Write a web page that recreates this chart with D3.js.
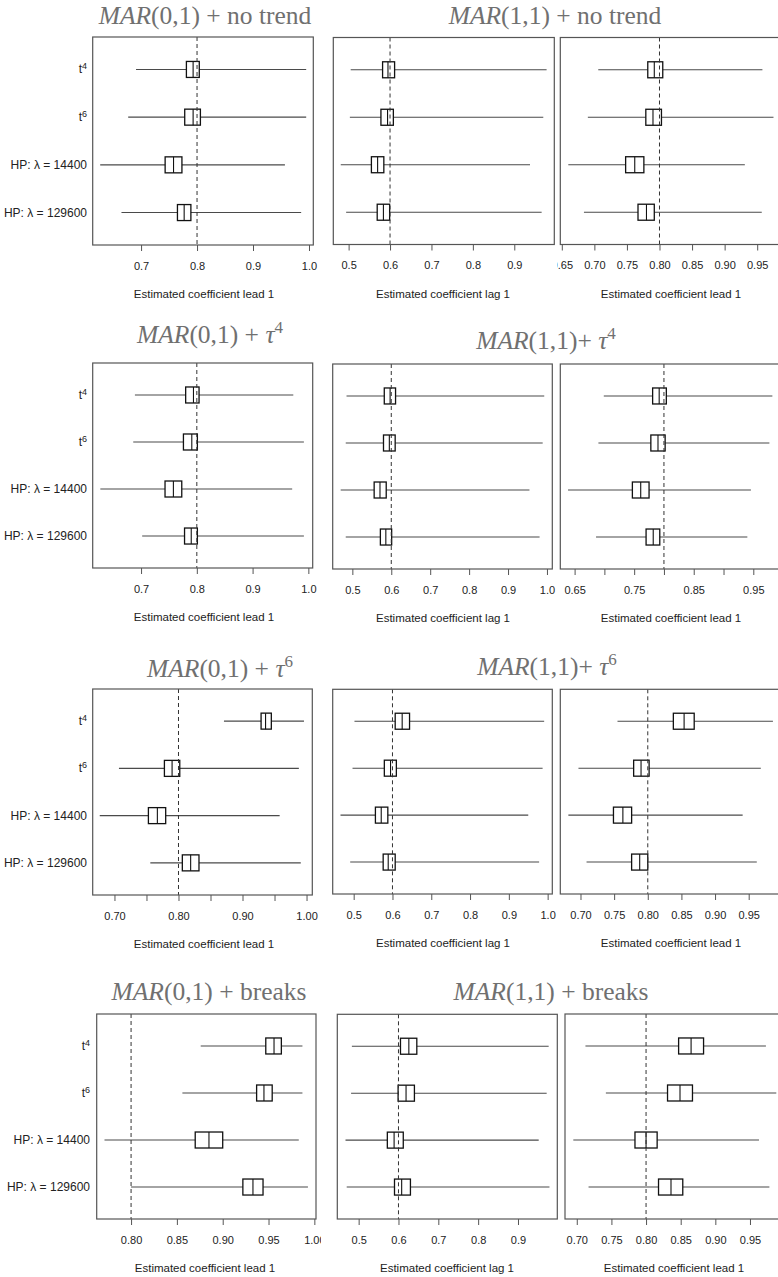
<!DOCTYPE html>
<html>
<head>
<meta charset="utf-8">
<script src="https://cdn.jsdelivr.net/npm/d3@7/dist/d3.min.js"></script>
<style>
body { margin: 0; background: #fff; }
text { font-family: "Liberation Sans", Arial, sans-serif; }
</style>
</head>
<body>
<div id="chart"></div>
<script>
var rowNames = ["t4", "t6", "HP: λ = 14400", "HP: λ = 129600"];

// every row: [2.5%, lower quartile, median, upper quartile, 97.5%]
var noTrendLead01 = [[0.691, 0.781, 0.793, 0.804, 0.995], [0.677, 0.778, 0.793, 0.806, 0.995], [0.627, 0.743, 0.758, 0.773, 0.957], [0.665, 0.765, 0.777, 0.789, 0.986]];
var noTrendLag11  = [[0.505, 0.582, 0.595, 0.611, 0.978], [0.503, 0.578, 0.594, 0.608, 0.970], [0.481, 0.555, 0.570, 0.585, 0.938], [0.494, 0.569, 0.584, 0.599, 0.966]];
var noTrendLead11 = [[0.706, 0.782, 0.792, 0.805, 0.958], [0.690, 0.779, 0.790, 0.803, 0.975], [0.660, 0.748, 0.762, 0.776, 0.931], [0.684, 0.767, 0.780, 0.792, 0.957]];

var tau4Lead01 = [[0.689, 0.780, 0.794, 0.804, 0.973], [0.686, 0.776, 0.791, 0.801, 0.992], [0.627, 0.743, 0.758, 0.773, 0.971], [0.702, 0.778, 0.790, 0.801, 0.992]];
var tau4Lag11  = [[0.485, 0.582, 0.597, 0.611, 0.993], [0.483, 0.580, 0.595, 0.610, 0.989], [0.470, 0.556, 0.571, 0.587, 0.955], [0.483, 0.572, 0.586, 0.601, 0.981]];
var tau4Lead11 = [[0.699, 0.781, 0.792, 0.804, 0.982], [0.690, 0.778, 0.790, 0.802, 0.977], [0.639, 0.747, 0.761, 0.775, 0.946], [0.686, 0.770, 0.782, 0.793, 0.940]];

var tau6Lead01 = [[0.871, 0.929, 0.936, 0.945, 0.996], [0.707, 0.778, 0.790, 0.802, 0.988], [0.677, 0.753, 0.767, 0.780, 0.958], [0.756, 0.806, 0.819, 0.832, 0.991]];
var tau6Lag11  = [[0.502, 0.607, 0.625, 0.644, 0.991], [0.497, 0.579, 0.595, 0.610, 0.987], [0.466, 0.556, 0.571, 0.588, 0.950], [0.491, 0.576, 0.589, 0.607, 0.978]];
var tau6Lead11 = [[0.755, 0.838, 0.854, 0.869, 0.986], [0.697, 0.779, 0.790, 0.802, 0.968], [0.682, 0.749, 0.763, 0.776, 0.941], [0.709, 0.776, 0.788, 0.800, 0.962]];

var breaksLead01 = [[0.876, 0.947, 0.956, 0.964, 0.987], [0.856, 0.937, 0.945, 0.954, 0.987], [0.771, 0.870, 0.885, 0.900, 0.983], [0.800, 0.922, 0.933, 0.944, 0.993]];
var breaksLag11  = [[0.483, 0.605, 0.626, 0.646, 0.977], [0.481, 0.599, 0.619, 0.640, 0.972], [0.467, 0.572, 0.589, 0.612, 0.952], [0.470, 0.590, 0.608, 0.630, 0.979]];
var breaksLead11 = [[0.7125, 0.847, 0.865, 0.883, 0.973], [0.742, 0.831, 0.849, 0.867, 0.988], [0.695, 0.784, 0.800, 0.816, 0.963], [0.717, 0.818, 0.836, 0.853, 0.978]];

var ticksTenth4 = [0.7, 0.8, 0.9, 1.0];
var ticksLag5 = [0.5, 0.6, 0.7, 0.8, 0.9];
var ticksLag6 = [0.5, 0.6, 0.7, 0.8, 0.9, 1.0];
var ticksLead65 = [0.65, 0.70, 0.75, 0.80, 0.85, 0.90, 0.95];
var ticksLead70 = [0.70, 0.75, 0.80, 0.85, 0.90, 0.95];
var ticksLead70to100 = [0.70, 0.75, 0.80, 0.85, 0.90, 0.95, 1.00];
var ticksLead80to100 = [0.80, 0.85, 0.90, 0.95, 1.00];

var titles = ["(0,1) + no trend", "(1,1) + no trend", "(0,1) + τ4", "(1,1)+ τ4", "(0,1) + τ6", "(1,1)+ τ6", "(0,1) + breaks", "(1,1) + breaks"];

var W = 778, H = 1277;
var svg = d3.select("#chart").append("svg")
  .attr("width", W)
  .attr("height", H);

// each row of the collage is three separate pictures, clipped at their edges
var rowBands = [[0, 305], [305, 630], [630, 955], [955, 1277]];
var cuts = [[0, 322, 557, W], [0, 322, 557, W], [0, 322, 557, W], [0, 321, 560, W]];
var defs = svg.append("defs");
rowBands.forEach(function(b, r) {
  for (var c = 0; c < 3; c++) {
    defs.append("clipPath").attr("id", "clip" + r + c)
      .append("rect")
      .attr("x", cuts[r][c]).attr("y", b[0])
      .attr("width", cuts[r][c + 1] - cuts[r][c]).attr("height", b[1] - b[0]);
  }
});

var panels = [
  {data: noTrendLead01, clip: "clip00", x0: 92.7, x1: 313.3, top: 37, bottom: 245, domain: [0.6136, 1.0077], ticks: ticksTenth4, every: 1, fmt: ".1f", ref: 0.8, label: "Estimated coefficient lead 1", labelX: 204, rows: true},
  {data: noTrendLag11, clip: "clip01", x0: 333.3, x1: 554.3, top: 37.5, bottom: 244.5, domain: [0.463, 0.9966], ticks: ticksLag5, every: 1, fmt: ".1f", ref: 0.6, label: "Estimated coefficient lag 1", labelX: 443},
  {data: noTrendLead11, clip: "clip02", x0: 560.3, x1: 781.3, top: 37.5, bottom: 244.5, domain: [0.6477, 0.987], ticks: ticksLead65, every: 1, fmt: ".2f", ref: 0.8, label: "Estimated coefficient lead 1", labelX: 671},

  {data: tau4Lead01, clip: "clip10", x0: 92.7, x1: 312.7, top: 363, bottom: 568, domain: [0.6133, 1.0078], ticks: ticksTenth4, every: 1, fmt: ".1f", ref: 0.8, label: "Estimated coefficient lead 1", labelX: 204, rows: true},
  {data: tau4Lag11, clip: "clip11", x0: 332.7, x1: 552.3, top: 364, bottom: 569, domain: [0.4495, 1.0137], ticks: ticksLag6, every: 1, fmt: ".1f", ref: 0.6, label: "Estimated coefficient lag 1", labelX: 443},
  {data: tau4Lead11, clip: "clip12", x0: 560.3, x1: 781, top: 364, bottom: 569, domain: [0.626, 0.9965], ticks: ticksLead65, every: 2, fmt: ".2f", ref: 0.8, label: "Estimated coefficient lead 1", labelX: 671},

  {data: tau6Lead01, clip: "clip20", x0: 92.7, x1: 312.3, top: 689, bottom: 895, domain: [0.666, 1.009], ticks: ticksLead70to100, every: 2, fmt: ".2f", ref: 0.8, label: "Estimated coefficient lead 1", labelX: 204, rows: true},
  {data: tau6Lag11, clip: "clip21", x0: 332.7, x1: 552.3, top: 689.3, bottom: 894, domain: [0.4459, 1.012], ticks: ticksLag6, every: 1, fmt: ".1f", ref: 0.6, label: "Estimated coefficient lag 1", labelX: 443},
  {data: tau6Lead11, clip: "clip22", x0: 560.3, x1: 781, top: 689.3, bottom: 894, domain: [0.670, 0.998], ticks: ticksLead70, every: 1, fmt: ".2f", ref: 0.8, label: "Estimated coefficient lead 1", labelX: 671},

  {data: breaksLead01, clip: "clip30", x0: 96.7, x1: 316, top: 1014, bottom: 1219, domain: [0.7625, 1.0018], ticks: ticksLead80to100, every: 1, fmt: ".2f", ref: 0.8, label: "Estimated coefficient lead 1", labelX: 205, rows: true, rowX: 90},
  {data: breaksLag11, clip: "clip31", x0: 337.3, x1: 557.3, top: 1014.3, bottom: 1219, domain: [0.4464, 0.9987], ticks: ticksLag5, every: 1, fmt: ".1f", ref: 0.6, label: "Estimated coefficient lag 1", labelX: 447},
  {data: breaksLead11, clip: "clip32", x0: 565, x1: 786, top: 1014, bottom: 1219, domain: [0.683, 1.002], ticks: ticksLead70, every: 1, fmt: ".2f", ref: 0.8, label: "Estimated coefficient lead 1", labelX: 674}
];

var titlePos = [[205, 24], [555, 24], [210, 343], [546, 349], [220, 677], [547, 675], [209, 1000], [551, 1000]];

function rowLabel(sel, name) {
  if (name[0] == "t") {
    sel.append("tspan").text("t");
    sel.append("tspan").attr("font-size", 9).attr("dy", -4).text(name.slice(1));
  } else {
    sel.text(name);
  }
}

panels.forEach(function(p) {
  var g = svg.append("g").attr("clip-path", "url(#" + p.clip + ")");
  var x = d3.scaleLinear().domain(p.domain).range([p.x0, p.x1]);
  var y = d3.scalePoint().domain(rowNames).range([p.top, p.bottom]).padding(0.68);
  var rows = p.data.map(function(d, i) { return {name: rowNames[i], v: d}; });

  g.selectAll(".ci")
    .data(rows)
    .enter()
    .append("line")
    .attr("x1", function(d) { return x(d.v[0]); })
    .attr("x2", function(d) { return x(d.v[4]); })
    .attr("y1", function(d) { return y(d.name); })
    .attr("y2", function(d) { return y(d.name); })
    .attr("stroke", "#4a4a4a")
    .attr("stroke-width", 1.1);

  g.selectAll(".box")
    .data(rows)
    .enter()
    .append("rect")
    .attr("x", function(d) { return x(d.v[1]); })
    .attr("width", function(d) { return x(d.v[3]) - x(d.v[1]); })
    .attr("y", function(d) { return y(d.name) - 8; })
    .attr("height", 16)
    .attr("fill", "#fff")
    .attr("stroke", "#111")
    .attr("stroke-width", 1.3);

  g.selectAll(".med")
    .data(rows)
    .enter()
    .append("line")
    .attr("x1", function(d) { return x(d.v[2]); })
    .attr("x2", function(d) { return x(d.v[2]); })
    .attr("y1", function(d) { return y(d.name) - 8; })
    .attr("y2", function(d) { return y(d.name) + 8; })
    .attr("stroke", "#111")
    .attr("stroke-width", 1.1);

  g.append("line")
    .attr("x1", x(p.ref)).attr("x2", x(p.ref))
    .attr("y1", p.top).attr("y2", p.bottom)
    .attr("stroke", "#333")
    .attr("stroke-dasharray", "4,3");

  g.append("rect")
    .attr("x", p.x0).attr("y", p.top)
    .attr("width", p.x1 - p.x0).attr("height", p.bottom - p.top)
    .attr("fill", "none")
    .attr("stroke", "#555")
    .attr("stroke-width", 1.2);

  var fmt = d3.format(p.fmt);
  var axis = d3.axisBottom(x)
    .tickValues(p.ticks)
    .tickSize(6)
    .tickPadding(11)
    .tickFormat(function(d, i) { return i % p.every == 0 ? fmt(d) : ""; });

  var ax = g.append("g")
    .attr("transform", "translate(0," + p.bottom + ")")
    .call(axis);
  ax.select(".domain").remove();
  ax.selectAll("line").attr("stroke", "#555");
  ax.selectAll("text").attr("font-size", 11).attr("fill", "#222")
    .attr("font-family", "'Liberation Sans', Arial, sans-serif");

  g.append("text")
    .attr("x", p.labelX)
    .attr("y", p.bottom + 53)
    .attr("text-anchor", "middle")
    .attr("font-size", 11.5)
    .attr("fill", "#222")
    .text(p.label);

  if (p.rows) {
    g.selectAll(".rowlab")
      .data(rowNames)
      .enter()
      .append("text")
      .attr("x", p.rowX || 87)
      .attr("y", function(d) { return y(d) + 4; })
      .attr("text-anchor", "end")
      .attr("font-size", 12)
      .attr("fill", "#222")
      .each(function(d) { rowLabel(d3.select(this), d); });
  }
});

titles.forEach(function(t, i) {
  var tx = svg.append("text")
    .attr("x", titlePos[i][0])
    .attr("y", titlePos[i][1])
    .attr("text-anchor", "middle")
    .attr("font-size", 25.5)
    .attr("fill", "#707070")
    .style("font-family", "'Liberation Serif', 'DejaVu Serif', serif");
  tx.append("tspan").attr("font-style", "italic").text("MAR");
  var k = t.indexOf("τ");
  if (k < 0) {
    tx.append("tspan").text(t);
  } else {
    tx.append("tspan").text(t.slice(0, k));
    tx.append("tspan").attr("font-style", "italic").text("τ");
    tx.append("tspan").attr("font-size", 17).attr("dy", -10).text(t.slice(k + 1));
  }
});
</script>
</body>
</html>
